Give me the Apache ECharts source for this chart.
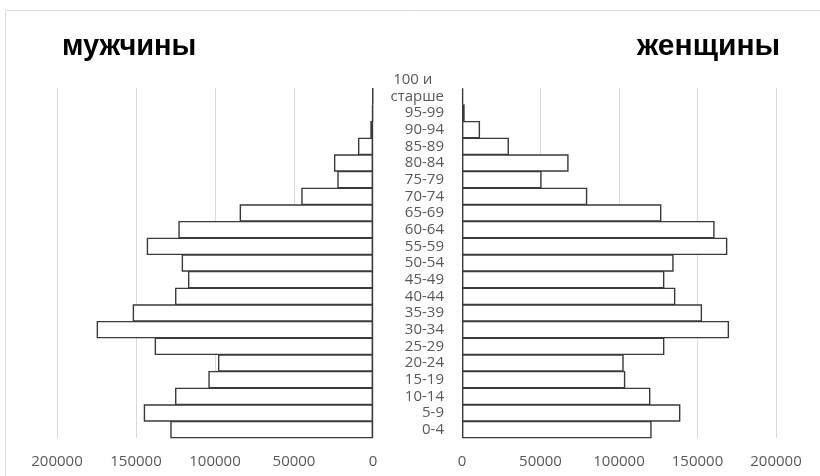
<!DOCTYPE html>
<html>
<head>
<meta charset="utf-8">
<script src="https://cdn.jsdelivr.net/npm/echarts@6/dist/echarts.min.js"></script>
<style>html,body{margin:0;padding:0;background:#fff;}#c{width:820px;height:476px;}</style>
</head>
<body>
<div id="c"></div>
<script>
const categories = ['0-4','5-9','10-14','15-19','20-24','25-29','30-34','35-39','40-44','45-49','50-54','55-59','60-64','65-69','70-74','75-79','80-84','85-89','90-94','95-99','100 и\u00a0\u00a0\u00a0\nстарше'];
const men   = [128300,145100,125300,104200,98100,138200,174900,152100,125300,117100,121100,143200,123200,84400,45400,22600,24700,9500,1700,600,400];
const women = [120800,139100,120000,104000,103000,128900,170100,152900,135900,128900,134800,169000,160900,127000,79800,50700,67900,29900,11500,1700,800];
const titleMen = 'мужчины';
const titleWomen = 'женщины';
const tickMax = 200000, tickStep = 50000;

const chart = echarts.init(document.getElementById('c'), null, {renderer:'canvas'});
const labelFont = {color:'#595959', fontSize:15, fontFamily:'Open Sans'};
const lastCat = categories[categories.length-1];
const barStyle = {color:'#ffffff', borderColor:'#3a3a3a', borderWidth:1.4};
const plain = v => String(v);
chart.setOption({
  animation:false,
  backgroundColor:'#ffffff',
  graphic:[
    {type:'rect', shape:{x:5.5,y:10.5,width:900,height:600}, style:{fill:'none', stroke:'#d9d9d9', lineWidth:1}, silent:true},
    {type:'text', left:62, top:32, style:{text:titleMen, font:'bold 29px "Liberation Sans"', fill:'#000'}},
    {type:'text', left:637, top:32, style:{text:titleWomen, font:'bold 30px "Liberation Sans"', fill:'#000'}}
  ],
  grid:[
    {left:57, right:447, top:88, bottom:38, containLabel:false},
    {left:462, right:44, top:88, bottom:38, containLabel:false}
  ],
  xAxis:[
    {gridIndex:0, type:'value', inverse:true, min:0, max:tickMax, interval:tickStep,
     axisLine:{show:false}, axisTick:{show:false},
     splitLine:{show:true, lineStyle:{color:'#d9d9d9', width:1}},
     axisLabel:Object.assign({margin:16, formatter:plain}, labelFont)},
    {gridIndex:1, type:'value', min:0, max:tickMax, interval:tickStep,
     axisLine:{show:false}, axisTick:{show:false},
     splitLine:{show:true, lineStyle:{color:'#d9d9d9', width:1}},
     axisLabel:Object.assign({margin:16, formatter:plain}, labelFont)}
  ],
  yAxis:[
    {gridIndex:0, type:'category', data:categories, position:'right',
     axisLine:{show:false}, axisTick:{show:false}, axisLabel:{show:false}},
    {gridIndex:1, type:'category', data:categories, position:'left',
     axisLine:{show:false}, axisTick:{show:false},
     axisLabel:Object.assign({interval:0, margin:18, align:'right', padding:[0,0,6,0], lineHeight:17,
       formatter: v => v === lastCat ? v + '\n\u00a0' : v}, labelFont)}
  ],
  series:[
    {type:'bar', xAxisIndex:0, yAxisIndex:0, data:men, barWidth:17.4, itemStyle:barStyle},
    {type:'bar', xAxisIndex:1, yAxisIndex:1, data:women, barWidth:17.4, itemStyle:barStyle}
  ]
});
</script>
</body>
</html>
